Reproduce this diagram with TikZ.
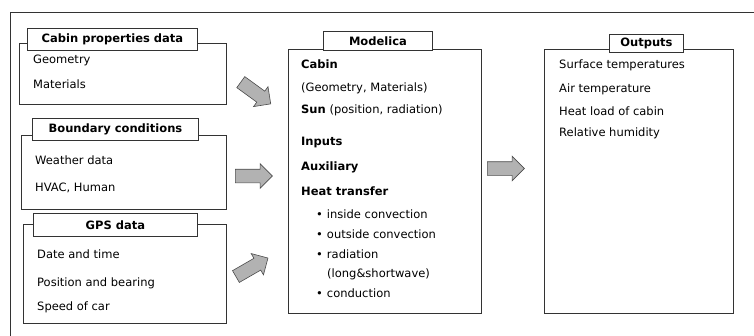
\documentclass[tikz,border=0pt]{standalone}
\usepackage{fontspec}
\setmainfont{DejaVu Sans}
\usetikzlibrary{shapes.arrows}

\begin{document}
\begin{tikzpicture}[x=1pt,y=-1pt,
  box/.style={draw=black!80,line width=0.9pt,anchor=north west,inner sep=0},
  tab/.style={draw=black!80,fill=white,line width=0.9pt,anchor=north west,inner sep=0,
    font=\fontsize{11.5}{13}\selectfont\bfseries},
  txt/.style={anchor=west,inner sep=0,text height=8.5pt,text depth=2.5pt,
    font=\fontsize{11.5}{13}\selectfont},
  bold/.style={txt,font=\fontsize{11.5}{13}\selectfont\bfseries},
  blk/.style={single arrow,draw=black!70,fill=black!30,line width=0.6pt,
    inner xsep=0,inner ysep=6.5pt,minimum width=24pt,minimum height=37pt,
    single arrow head extend=5.5pt,single arrow head indent=0pt}
]
\useasboundingbox (0,0) rectangle (754,335);
\begin{scope}
\clip (0,0) rectangle (754,335);
\draw[draw=black!80,line width=0.9pt] (10,12) rectangle (770,350);
\end{scope}

% inputs
\node[box,minimum width=207,minimum height=61] (cabin) at (19,43) {};
\node[tab,minimum width=170,minimum height=22] (cabintab) at (27,28) {Cabin properties data};
\node[txt] (geo) at (33,60) {Geometry};
\node[txt] (mat) at (33,85) {Materials};

\node[box,minimum width=205,minimum height=74] (bound) at (21,135) {};
\node[tab,minimum width=166,minimum height=22] (boundtab) at (32,118) {Boundary conditions};
\node[txt] (weather) at (35,161) {Weather data};
\node[txt] (hvac) at (35,188) {HVAC, Human};

\node[box,minimum width=203,minimum height=99] (gps) at (23,224) {};
\node[tab,minimum width=164,minimum height=23] (gpstab) at (33,213) {GPS data};
\node[txt] (date) at (37,255) {Date and time};
\node[txt] (pos) at (37,283) {Position and bearing};
\node[txt] (speed) at (37,307) {Speed of car};

% model
\node[box,minimum width=193,minimum height=264] (model) at (288,49) {};
\node[tab,minimum width=109,minimum height=19] (modeltab) at (323,31) {Modelica};
\node[bold] (cab) at (301,65) {Cabin};
\node[txt] (cabgm) at (301,88) {(Geometry, Materials)};
\node[txt] (sun) at (301,110) {\textbf{Sun} (position, radiation)};
\node[bold] (inp) at (301,142) {Inputs};
\node[bold] (aux) at (301,167) {Auxiliary};
\node[bold] (heat) at (301,192) {Heat transfer};
\foreach \y/\t in {215/inside convection,235/outside convection,255/radiation,294/conduction}
  \node[txt] at (316,\y) {\textbullet\hspace{4pt}\t};
\node[txt] (long) at (327,274) {(long\&shortwave)};

% outputs
\node[box,minimum width=189,minimum height=264] (out) at (544,49) {};
\node[tab,minimum width=74,minimum height=18] (outtab) at (609,34) {Outputs};
\node[txt] (surf) at (559,65) {Surface temperatures};
\node[txt] (air) at (559,89) {Air temperature};
\node[txt] (load) at (559,112) {Heat load of cabin};
\node[txt] (hum) at (559,133) {Relative humidity};

% block arrows
\node[blk,rotate=-36] (a1) at (253,91) {};
\node[blk] (a2) at (250.5,176) {};
\node[blk,rotate=30] (a3) at (249,269) {};
\node[blk] (a4) at (502.5,168.5) {};
\end{tikzpicture}
\end{document}
